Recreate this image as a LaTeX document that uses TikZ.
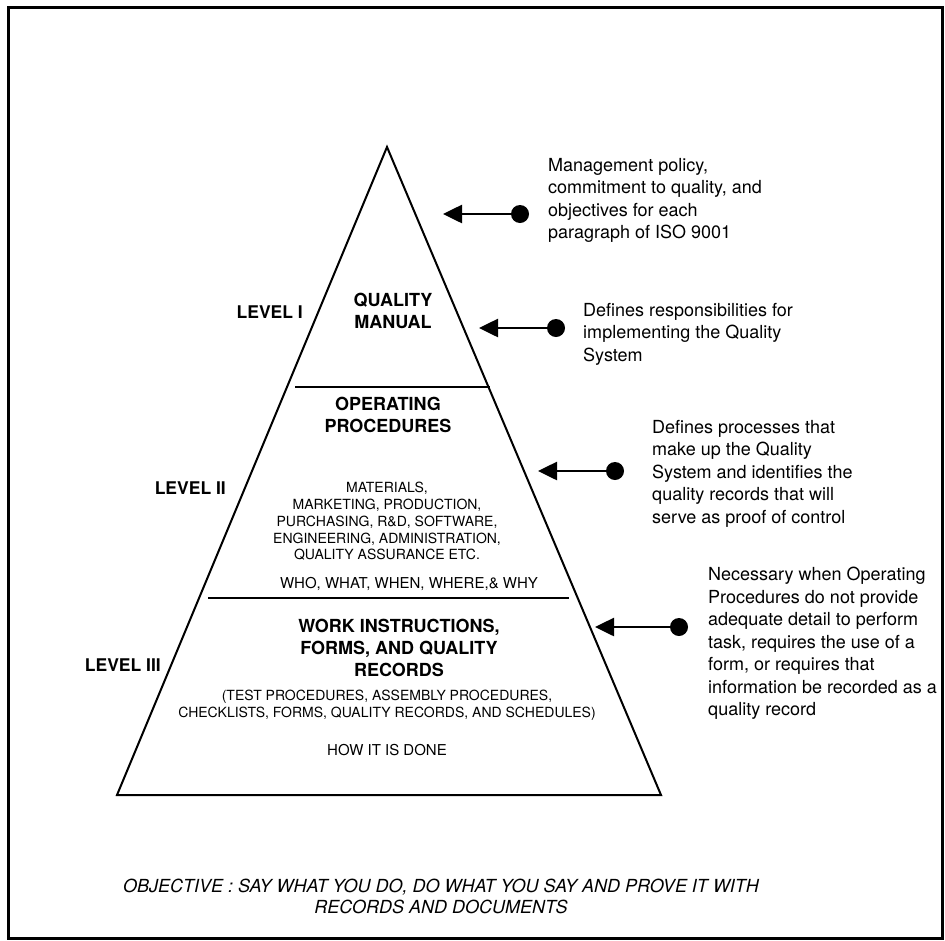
\documentclass[tikz,border=0pt]{standalone}
\usepackage{fontspec}
\setmainfont{TeX Gyre Heros}
\usetikzlibrary{arrows.meta}
\newcommand{\fsBig}{\fontsize{18}{22.5}\selectfont}
\newcommand{\fsTitle}{\fontsize{18}{22}\selectfont\bfseries}
\newcommand{\fsSmall}{\fontsize{14}{16.8}\selectfont}
\newcommand{\fsMid}{\fontsize{15}{18}\selectfont}
\newcommand{\fsLevel}{\fontsize{17.5}{21}\selectfont\bfseries}
\tikzset{
  sidetext/.style={anchor=north west, inner sep=0pt, align=left, font=\fsBig},
  ptitle/.style={anchor=north, inner sep=0pt, align=center, font=\fsTitle},
  psmall/.style={anchor=north, inner sep=0pt, align=center, font=\fsSmall},
  pmid/.style={anchor=north, inner sep=0pt, align=center, font=\fsMid},
  leveltext/.style={anchor=east, inner sep=0pt, font=\fsLevel},
  dotnode/.style={circle, fill=black, draw=none, minimum size=18pt, inner sep=0pt},
  pointer/.style={line width=2.6pt, -{Triangle[length=19pt,width=18pt]}},
  pyr/.style={line width=2pt, line join=miter},
  divider/.style={line width=2.4pt},
}
\begin{document}
\begin{tikzpicture}[x=1pt,y=-1pt]
\useasboundingbox (0,0) rectangle (945,940);
\fill[white] (0,0) rectangle (945,940);
% frame
\draw[line width=3pt] (8,7) rectangle (942,938);

% pyramid
\coordinate (apex) at (387,147);
\coordinate (bl) at (117,795);
\coordinate (br) at (661,795);
\draw[pyr] (apex) -- (bl) -- (br) -- cycle;
\coordinate (d1a) at (295,387);
\coordinate (d1b) at (490,387);
\coordinate (d2a) at (208,598);
\coordinate (d2b) at (569,598);
\draw[divider] (d1a) -- (d1b);
\draw[divider] (d2a) -- (d2b);

% level labels
\node[leveltext] (lv1) at (303,312) {LEVEL I};
\node[leveltext] (lv2) at (226,488) {LEVEL II};
\node[leveltext] (lv3) at (161,665) {LEVEL III};

% pyramid texts
\node[ptitle] (qm) at (393,292.5) {QUALITY\\MANUAL};
\node[ptitle] (op) at (388,396.5) {OPERATING\\PROCEDURES};
\node[psmall] (dept) at (387,482) {MATERIALS,\\MARKETING, PRODUCTION,\\PURCHASING, R\&D, SOFTWARE,\\ENGINEERING, ADMINISTRATION,\\QUALITY ASSURANCE ETC.};
\node[pmid] (who) at (409,577.5) {WHO, WHAT, WHEN, WHERE,\& WHY};
\node[ptitle] (wi) at (399,618.5) {WORK INSTRUCTIONS,\\FORMS, AND QUALITY\\RECORDS};
\node[psmall] (tp) at (387,690) {(TEST PROCEDURES, ASSEMBLY PROCEDURES,\\CHECKLISTS, FORMS, QUALITY RECORDS, AND SCHEDULES)};
\node[pmid] (how) at (387,744.5) {HOW IT IS DONE};

% side annotations
\node[sidetext] (s1) at (548,158) {Management policy,\\commitment to quality, and\\objectives for each\\paragraph of ISO 9001};
\node[sidetext] (s2) at (583,303) {Defines responsibilities for\\implementing the Quality\\System};
\node[sidetext] (s3) at (652,420) {Defines processes that\\make up the Quality\\System and identifies the\\quality records that will\\serve as proof of control};
\node[sidetext] (s4) at (708,567) {Necessary when Operating\\Procedures do not provide\\adequate detail to perform\\task, requires the use of a\\form, or requires that\\information be recorded as a\\quality record};

% pointers
\node[dotnode] (p1) at (520,214) {};
\node[dotnode] (p2) at (556,328) {};
\node[dotnode] (p3) at (615,471) {};
\node[dotnode] (p4) at (679,627) {};
\coordinate (t1) at (443,214);
\coordinate (t2) at (479,328);
\coordinate (t3) at (538,471);
\coordinate (t4) at (595,627);
\draw[pointer] (p1.center) -- (t1);
\draw[pointer] (p2.center) -- (t2);
\draw[pointer] (p3.center) -- (t3);
\draw[pointer] (p4.center) -- (t4);

% objective
\node[anchor=north, inner sep=0pt, align=center, font=\fontsize{18}{21}\selectfont\itshape] (obj) at (441,878.5) {OBJECTIVE : SAY WHAT YOU DO, DO WHAT YOU SAY AND PROVE IT WITH\\RECORDS AND DOCUMENTS};
\end{tikzpicture}
\end{document}
